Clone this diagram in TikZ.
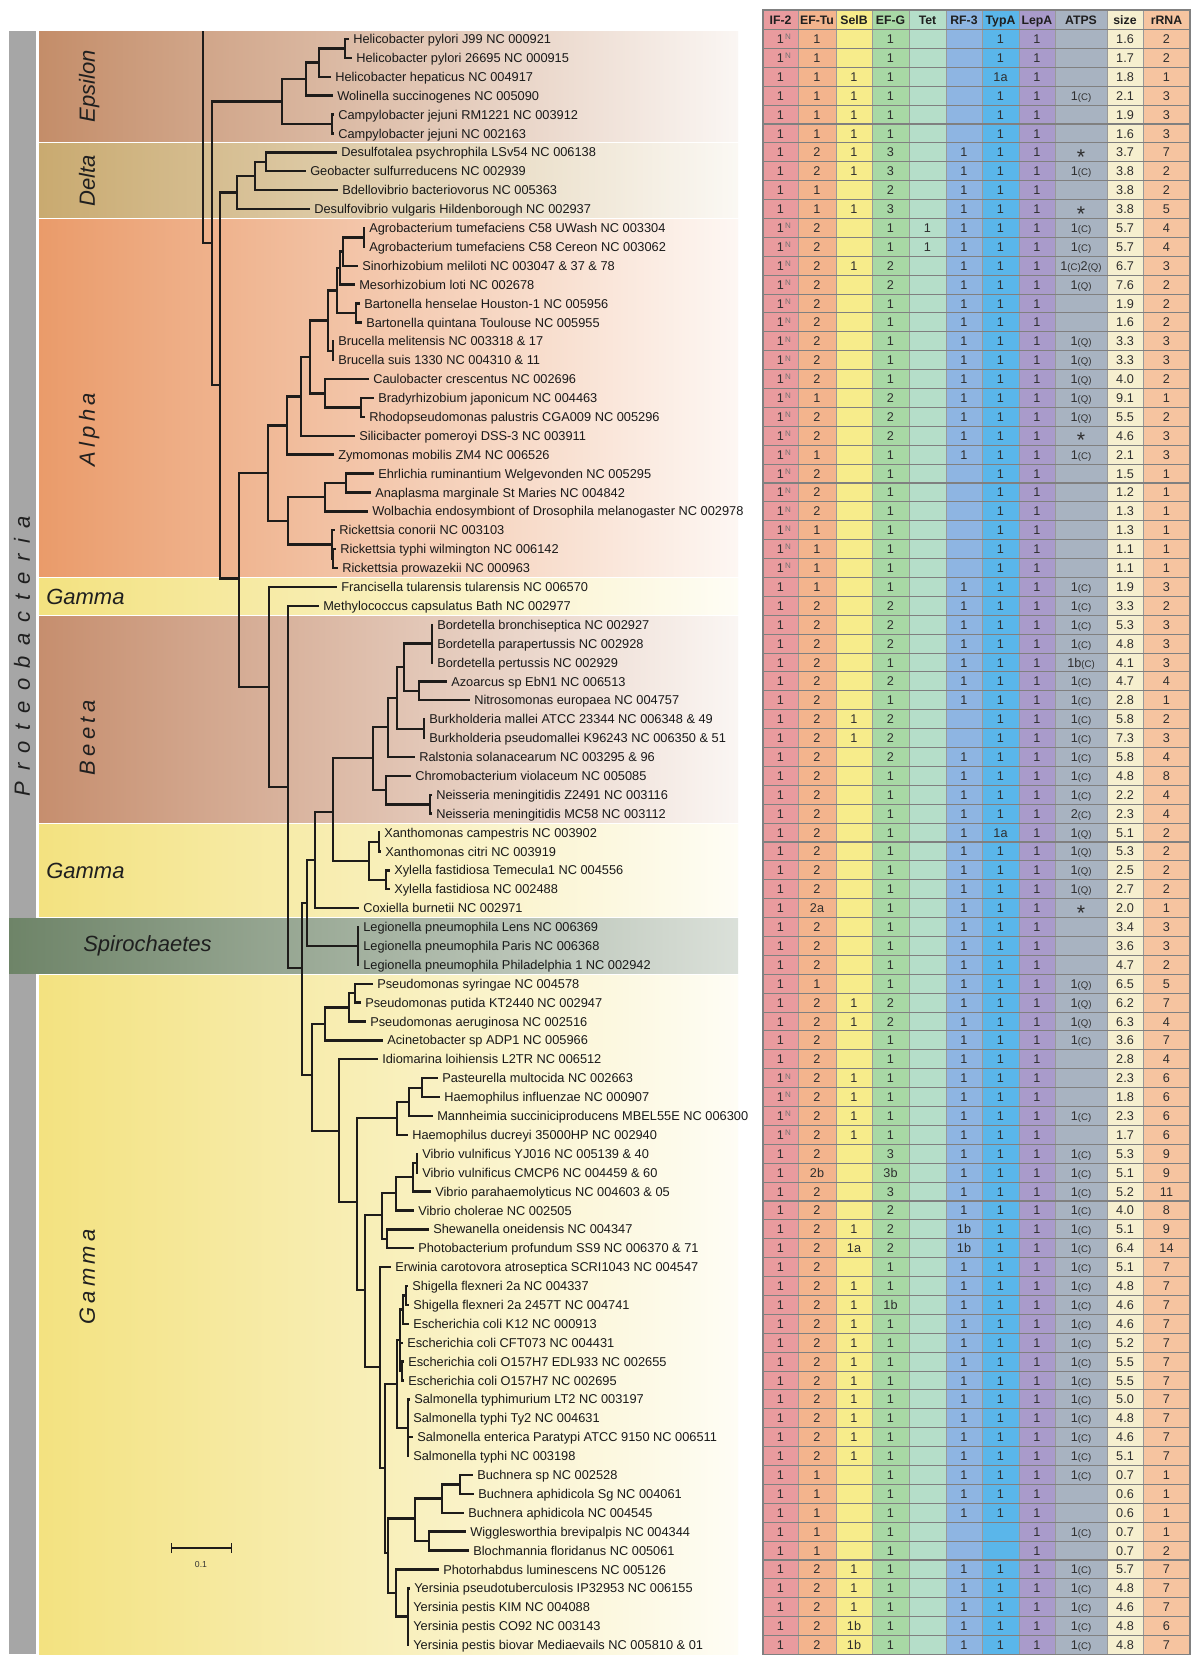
\documentclass[tikz,border=0pt]{standalone}
\usepackage{fontspec}
\setmainfont{Liberation Sans}
\newfontfamily\grpfont[LetterSpace=20]{Liberation Sans}
\newfontfamily\phylfont[LetterSpace=48]{Liberation Sans}
\usetikzlibrary{arrows.meta}

\definecolor{treecol}{RGB}{30,28,26}
\definecolor{epscol}{RGB}{196,141,105}
\definecolor{delcol}{RGB}{201,170,112}
\definecolor{alpcol}{RGB}{234,155,106}
\definecolor{gamcol}{RGB}{243,226,128}
\definecolor{betcol}{RGB}{198,142,110}
\definecolor{spicol}{RGB}{110,132,104}
\definecolor{phycol}{RGB}{166,166,166}
\definecolor{cIF}{RGB}{233,155,158}
\definecolor{cTu}{RGB}{243,180,141}
\definecolor{cSel}{RGB}{247,236,139}
\definecolor{cG}{RGB}{168,216,165}
\definecolor{cTet}{RGB}{181,222,201}
\definecolor{cRF}{RGB}{142,181,226}
\definecolor{cTyp}{RGB}{90,182,234}
\definecolor{cLep}{RGB}{169,155,203}
\definecolor{cATP}{RGB}{168,179,193}
\definecolor{cSize}{RGB}{246,239,207}
\definecolor{cRNA}{RGB}{246,196,160}
\definecolor{gridcol}{RGB}{128,128,128}

\newcommand{\supN}{\rlap{\kern0.8pt\raisebox{0.55ex}{\fontsize{6pt}{6pt}\selectfont\color{black!55}N}}}
\newcommand{\smC}{{\fontsize{7.2pt}{8pt}\selectfont(C)}}
\newcommand{\smQ}{{\fontsize{7.2pt}{8pt}\selectfont(Q)}}
\newcommand{\astk}{\raisebox{-5.6pt}{\fontsize{16pt}{16pt}\selectfont *}}

\begin{document}
\begin{tikzpicture}[x=0.75pt,y=-0.75pt,
  branch/.style={line width=1.8pt,draw=treecol},
  leaf/.style={anchor=west,inner xsep=3pt,inner ysep=0pt,text=black!90,font=\fontsize{9.6pt}{10pt}\selectfont,text height=6.9pt,text depth=0pt},
  cell/.style={inner sep=0pt,text=black!82,font=\fontsize{9.5pt}{10pt}\selectfont,text height=6.8pt,text depth=0pt},
  head/.style={cell,text=black!88,font=\bfseries\fontsize{9.2pt}{10pt}\selectfont},
  grp/.style={inner sep=0pt,text=black!88,font=\itshape\fontsize{16.5pt}{18pt}\selectfont,text height=11.8pt,text depth=0pt},
  grpsp/.style={grp,font=\grpfont\itshape\fontsize{16.5pt}{18pt}\selectfont},
  rowline/.style={draw=gridcol,line width=0.8pt},
  colline/.style={draw=gridcol!80,line width=0.6pt}]
\fill[white] (0,0) rectangle (1200,1663);
\useasboundingbox (0,0) rectangle (1200,1663);

% groups
\shade[left color=epscol,middle color=epscol!72,right color=epscol!8] (39,31) rectangle (738,141.9);
\shade[left color=delcol,middle color=delcol!72,right color=delcol!8] (39,143.9) rectangle (738,217.5);
\shade[left color=alpcol,middle color=alpcol!72,right color=alpcol!8] (39,219.5) rectangle (738,576.5);
\shade[left color=gamcol,middle color=gamcol!72,right color=gamcol!8] (39,578.5) rectangle (738,614.3);
\shade[left color=betcol,middle color=betcol!72,right color=betcol!8] (39,616.3) rectangle (738,822.1);
\shade[left color=gamcol,middle color=gamcol!72,right color=gamcol!8] (39,824.1) rectangle (738,916.6);
\shade[left color=gamcol,middle color=gamcol!72,right color=gamcol!8] (39,975.3) rectangle (738,1654);
\fill[phycol] (9,31) rectangle (36,1654);
\shade[left color=spicol,middle color=spicol!75,right color=spicol!25] (9,918.6) rectangle (738,973.3);

\node[grp,rotate=90] (lab-eps) at (87,86) {Epsilon};
\node[grp,rotate=90] (lab-del) at (87,181) {Delta};
\node[grpsp,rotate=90] (lab-alp) at (87,430) {Alpha};
\node[grp,anchor=west] (lab-gam1) at (46,597) {Gamma};
\node[grpsp,rotate=90] (lab-bet) at (87,738) {Beeta};
\node[grp,anchor=west] (lab-gam2) at (46,871) {Gamma};
\node[grp,anchor=west] (lab-spi) at (83,944) {Spirochaetes};
\node[grpsp,rotate=90] (lab-gam3) at (87,1277) {Gamma};
\node[grp,rotate=90,font=\phylfont\itshape\fontsize{16.5pt}{18pt}\selectfont] (lab-phy) at (22,656) {Proteobacteria};

% leaves
\foreach \r/\tx/\lab in {
0/349/Helicobacter pylori J99 NC 000921,
1/352/Helicobacter pylori 26695 NC 000915,
2/331/Helicobacter hepaticus NC 004917,
3/333/Wolinella succinogenes NC 005090,
4/334/Campylobacter jejuni RM1221 NC 003912,
5/334/Campylobacter jejuni NC 002163,
6/337/Desulfotalea psychrophila LSv54 NC 006138,
7/306/Geobacter sulfurreducens NC 002939,
8/338/Bdellovibrio bacteriovorus NC 005363,
9/310/Desulfovibrio vulgaris Hildenborough NC 002937,
10/365/Agrobacterium tumefaciens C58 UWash NC 003304,
11/365/Agrobacterium tumefaciens C58 Cereon NC 003062,
12/358/Sinorhizobium meliloti NC 003047 \& 37 \& 78,
13/355/Mesorhizobium loti NC 002678,
14/360/Bartonella henselae Houston-1 NC 005956,
15/362/Bartonella quintana Toulouse NC 005955,
16/334/Brucella melitensis NC 003318 \& 17,
17/334/Brucella suis 1330 NC 004310 \& 11,
18/369/Caulobacter crescentus NC 002696,
19/374/Bradyrhizobium japonicum NC 004463,
20/365/Rhodopseudomonas palustris CGA009 NC 005296,
21/355/Silicibacter pomeroyi DSS-3 NC 003911,
22/334/Zymomonas mobilis ZM4 NC 006526,
23/374/Ehrlichia ruminantium Welgevonden NC 005295,
24/371/Anaplasma marginale St Maries NC 004842,
25/368/Wolbachia endosymbiont of Drosophila melanogaster NC 002978,
26/335/Rickettsia conorii NC 003103,
27/336/Rickettsia typhi wilmington NC 006142,
28/338/Rickettsia prowazekii NC 000963,
29/337/Francisella tularensis tularensis NC 006570,
30/319/Methylococcus capsulatus Bath NC 002977,
31/433/Bordetella bronchiseptica NC 002927,
32/433/Bordetella parapertussis NC 002928,
33/433/Bordetella pertussis NC 002929,
34/447/Azoarcus sp EbN1 NC 006513,
35/470/Nitrosomonas europaea NC 004757,
36/425/Burkholderia mallei ATCC 23344 NC 006348 \& 49,
37/425/Burkholderia pseudomallei K96243 NC 006350 \& 51,
38/415/Ralstonia solanacearum NC 003295 \& 96,
39/411/Chromobacterium violaceum NC 005085,
40/432/Neisseria meningitidis Z2491 NC 003116,
41/432/Neisseria meningitidis MC58 NC 003112,
42/380/Xanthomonas campestris NC 003902,
43/381/Xanthomonas citri NC 003919,
44/390/Xylella fastidiosa Temecula1 NC 004556,
45/390/Xylella fastidiosa NC 002488,
46/359/Coxiella burnetii NC 002971,
47/359/Legionella pneumophila Lens NC 006369,
48/359/Legionella pneumophila Paris NC 006368,
49/359/Legionella pneumophila Philadelphia 1 NC 002942,
50/373/Pseudomonas syringae NC 004578,
51/361/Pseudomonas putida KT2440 NC 002947,
52/366/Pseudomonas aeruginosa NC 002516,
53/383/Acinetobacter sp ADP1 NC 005966,
54/378/Idiomarina loihiensis L2TR NC 006512,
55/438/Pasteurella multocida NC 002663,
56/440/Haemophilus influenzae NC 000907,
57/433/Mannheimia succiniciproducens MBEL55E NC 006300,
58/408/Haemophilus ducreyi 35000HP NC 002940,
59/418/Vibrio vulnificus YJ016 NC 005139 \& 40,
60/418/Vibrio vulnificus CMCP6 NC 004459 \& 60,
61/431/Vibrio parahaemolyticus NC 004603 \& 05,
62/414/Vibrio cholerae NC 002505,
63/429/Shewanella oneidensis NC 004347,
64/414/Photobacterium profundum SS9 NC 006370 \& 71,
65/391/Erwinia carotovora atroseptica SCRI1043 NC 004547,
66/408/Shigella flexneri 2a NC 004337,
67/409/Shigella flexneri 2a 2457T NC 004741,
68/409/Escherichia coli K12 NC 000913,
69/403/Escherichia coli CFT073 NC 004431,
70/404/Escherichia coli O157H7 EDL933 NC 002655,
71/404/Escherichia coli O157H7 NC 002695,
72/410/Salmonella typhimurium LT2 NC 003197,
73/409/Salmonella typhi Ty2 NC 004631,
74/413/Salmonella enterica Paratypi ATCC 9150 NC 006511,
75/409/Salmonella typhi NC 003198,
76/473/Buchnera sp NC 002528,
77/474/Buchnera aphidicola Sg NC 004061,
78/464/Buchnera aphidicola NC 004545,
79/466/Wigglesworthia brevipalpis NC 004344,
80/469/Blochmannia floridanus NC 005061,
81/439/Photorhabdus luminescens NC 005126,
82/410/Yersinia pseudotuberculosis IP32953 NC 006155,
83/409/Yersinia pestis KIM NC 004088,
84/409/Yersinia pestis CO92 NC 003143,
85/409/Yersinia pestis biovar Mediaevails NC 005810 \& 01}
  \node[leaf] (t\r) at (\tx,{39+18.894*\r}) {\lab};

% inner nodes
\coordinate (rt) at (203,31);
\coordinate (n1) at (212,243);
\coordinate (E0) at (282,101.5);
\coordinate (E1) at (306,79);
\coordinate (E2) at (319,62.6);
\coordinate (Hp) at (345,48.4);
\coordinate (Cj) at (332,124);
\coordinate (n2) at (220,385);
\coordinate (D0) at (237,192.5);
\coordinate (D1) at (255,176);
\coordinate (D2) at (266,161.8);
\coordinate (n3) at (239,578.5);
\coordinate (A0) at (268,473);
\coordinate (A1) at (287,425.5);
\coordinate (A2) at (301,396.4);
\coordinate (A3) at (310,357);
\coordinate (A4) at (328,320.6);
\coordinate (A5) at (337,290.5);
\coordinate (A6) at (340,268);
\coordinate (A7) at (343,251.5);
\coordinate (Ag) at (364,237.4);
\coordinate (Bt) at (356,313);
\coordinate (Br) at (333,350.7);
\coordinate (Cb) at (325,393.3);
\coordinate (Bp) at (361,407.5);
\coordinate (Rk) at (288,520.8);
\coordinate (An) at (325,497.2);
\coordinate (Ea) at (346,483);
\coordinate (Ri) at (332,544.4);
\coordinate (Tp) at (333,558.6);
\coordinate (n4) at (269,687);
\coordinate (n5) at (288,787);
\coordinate (n6) at (302,968);
\coordinate (n7) at (307,903);
\coordinate (n8) at (315,860);
\coordinate (n9) at (333,812);
\coordinate (B0) at (373,758);
\coordinate (B1) at (388,727);
\coordinate (B2) at (397,698);
\coordinate (B3) at (404,667);
\coordinate (B4) at (419,690.9);
\coordinate (Bo) at (432,643.6);
\coordinate (Bu) at (424,728.7);
\coordinate (B5) at (386,790);
\coordinate (Ne) at (430,804.3);
\coordinate (X0) at (369,861);
\coordinate (Xa) at (379,842);
\coordinate (Xy) at (386,879.8);
\coordinate (Lg) at (358,945.9);
\coordinate (G1) at (312,1075);
\coordinate (Pa) at (325,1024);
\coordinate (Ps) at (349,1007.6);
\coordinate (Pp) at (355,993.2);
\coordinate (G2) at (339,1131);
\coordinate (G3) at (357,1202);
\coordinate (Pt) at (397,1118);
\coordinate (Pm) at (409,1102);
\coordinate (Ph) at (422,1087.7);
\coordinate (G4) at (365,1290);
\coordinate (Vs) at (382,1215);
\coordinate (Vb) at (396,1193);
\coordinate (Vp) at (413,1177);
\coordinate (Vv) at (417,1163.2);
\coordinate (Sp) at (387,1238.8);
\coordinate (G5) at (380,1367);
\coordinate (G6) at (385,1468);
\coordinate (Es) at (397,1384);
\coordinate (Ec) at (400,1340);
\coordinate (Sk) at (403,1309.6);
\coordinate (Sh) at (406,1295.5);
\coordinate (Eo) at (402,1371);
\coordinate (Sa) at (408,1427.7);
\coordinate (G7) at (388,1553);
\coordinate (Bw) at (415,1518.5);
\coordinate (Bc) at (442,1498.5);
\coordinate (Bs) at (460,1484.4);
\coordinate (Wb) at (429,1541);
\coordinate (Yp) at (396,1593);
\coordinate (Ye) at (408,1616.6);

\foreach \p/\q in {rt/n1,n1/E0,n1/n2,E0/E1,E0/Cj,E1/E2,E1/t3,E2/Hp,E2/t2,Hp/t0,Hp/t1,Cj/t4,Cj/t5,
  n2/D0,n2/n3,D0/D1,D0/t9,D1/D2,D1/t8,D2/t6,D2/t7,
  n3/A0,n3/n4,A0/A1,A0/Rk,A1/A2,A1/t22,A2/A3,A2/t21,A3/A4,A3/Cb,A4/A5,A4/Br,A5/A6,A5/Bt,
  A6/A7,A6/t13,A7/Ag,A7/t12,Ag/t10,Ag/t11,Bt/t14,Bt/t15,Br/t16,Br/t17,Cb/t18,Cb/Bp,Bp/t19,Bp/t20,
  Rk/An,Rk/Ri,An/Ea,An/t25,Ea/t23,Ea/t24,Ri/t26,Ri/Tp,Tp/t27,Tp/t28,
  n4/t29,n4/n5,n5/t30,n5/n6,n6/n7,n6/G1,n7/n8,n7/Lg,Lg/t47,Lg/t48,Lg/t49,n8/n9,n8/t46,
  n9/B0,n9/X0,B0/B1,B0/B5,B1/B2,B1/t38,B2/B3,B2/Bu,B3/Bo,B3/B4,Bo/t31,Bo/t32,Bo/t33,
  B4/t34,B4/t35,Bu/t36,Bu/t37,B5/t39,B5/Ne,Ne/t40,Ne/t41,X0/Xa,X0/Xy,Xa/t42,Xa/t43,Xy/t44,Xy/t45,
  G1/Pa,G1/G2,Pa/Ps,Pa/t53,Ps/Pp,Ps/t52,Pp/t50,Pp/t51,G2/t54,G2/G3,G3/Pt,G3/G4,
  Pt/Pm,Pt/t58,Pm/Ph,Pm/t57,Ph/t55,Ph/t56,G4/Vs,G4/G5,Vs/Vb,Vs/Sp,Vb/Vp,Vb/t62,Vp/Vv,Vp/t61,
  Vv/t59,Vv/t60,Sp/t63,Sp/t64,G5/t65,G5/G6,G6/Es,G6/G7,Es/Ec,Es/Sa,Ec/Sk,Ec/t69,Ec/Eo,
  Sk/Sh,Sk/t68,Sh/t66,Sh/t67,Eo/t70,Eo/t71,Sa/t72,Sa/t73,Sa/t74,Sa/t75,
  G7/Bw,G7/Yp,Bw/Bc,Bw/Wb,Bc/Bs,Bc/t78,Bs/t76,Bs/t77,Wb/t79,Wb/t80,Yp/t81,Yp/Ye,
  Ye/t82,Ye/t83,Ye/t84,Ye/t85}
  \draw[branch] (\p) |- (\q);

% scale
\coordinate (sb1) at (171,1548);
\coordinate (sb2) at (232,1548);
\draw[line width=0.9pt,draw=treecol,{Bar[width=7.5pt]}-{Bar[width=7.5pt]}] (sb1) -- (sb2);
\node[inner sep=0pt,font=\fontsize{6.5pt}{7pt}\selectfont,text=black!80] (sbl) at (201,1564) {0.1};

% table
\foreach \xa/\xb/\col in {763/798/cIF,798/836/cTu,836/872/cSel,872/909/cG,909/946/cTet,946/982/cRF,
  982/1019/cTyp,1019/1055/cLep,1055/1107/cATP,1107/1143/cSize,1143/1190/cRNA}
  \fill[\col] (\xa,10) rectangle (\xb,1654.4);
\foreach \xa in {798,836,872,909,946,982,1019,1055,1107,1143}
  \draw[colline] (\xa,10) -- (\xa,1654.4);
\foreach \k in {0,...,86}
  \draw[rowline] (763,{29.55+18.894*\k}) -- (1190,{29.55+18.894*\k});
\draw[rowline] (763,10) rectangle (1190,1654.4);

\def\colx{{780.5,817,854,890.5,927.5,964,1000.5,1037,1081,1125,1166.5}}
\foreach \h [count=\c] in {IF-2,EF-Tu,SelB,EF-G,Tet,RF-3,TypA,LepA,ATPS,size,rRNA}
  \node[head] (h\c) at ({\colx[\c-1]},20) {\h};

\foreach \r/\vals in {
0/{1\supN,1,{},1,{},{},1,1,{},1.6,2},
1/{1\supN,1,{},1,{},{},1,1,{},1.7,2},
2/{1,1,1,1,{},{},1a,1,{},1.8,1},
3/{1,1,1,1,{},{},1,1,1\smC,2.1,3},
4/{1,1,1,1,{},{},1,1,{},1.9,3},
5/{1,1,1,1,{},{},1,1,{},1.6,3},
6/{1,2,1,3,{},1,1,1,\astk,3.7,7},
7/{1,2,1,3,{},1,1,1,1\smC,3.8,2},
8/{1,1,{},2,{},1,1,1,{},3.8,2},
9/{1,1,1,3,{},1,1,1,\astk,3.8,5},
10/{1\supN,2,{},1,1,1,1,1,1\smC,5.7,4},
11/{1\supN,2,{},1,1,1,1,1,1\smC,5.7,4},
12/{1\supN,2,1,2,{},1,1,1,1\smC2\smQ,6.7,3},
13/{1\supN,2,{},2,{},1,1,1,1\smQ,7.6,2},
14/{1\supN,2,{},1,{},1,1,1,{},1.9,2},
15/{1\supN,2,{},1,{},1,1,1,{},1.6,2},
16/{1\supN,2,{},1,{},1,1,1,1\smQ,3.3,3},
17/{1\supN,2,{},1,{},1,1,1,1\smQ,3.3,3},
18/{1\supN,2,{},1,{},1,1,1,1\smQ,4.0,2},
19/{1\supN,1,{},2,{},1,1,1,1\smQ,9.1,1},
20/{1\supN,2,{},2,{},1,1,1,1\smQ,5.5,2},
21/{1\supN,2,{},2,{},1,1,1,\astk,4.6,3},
22/{1\supN,1,{},1,{},1,1,1,1\smC,2.1,3},
23/{1\supN,2,{},1,{},{},1,1,{},1.5,1},
24/{1\supN,2,{},1,{},{},1,1,{},1.2,1},
25/{1\supN,2,{},1,{},{},1,1,{},1.3,1},
26/{1\supN,1,{},1,{},{},1,1,{},1.3,1},
27/{1\supN,1,{},1,{},{},1,1,{},1.1,1},
28/{1\supN,1,{},1,{},{},1,1,{},1.1,1},
29/{1,1,{},1,{},1,1,1,1\smC,1.9,3},
30/{1,2,{},2,{},1,1,1,1\smC,3.3,2},
31/{1,2,{},2,{},1,1,1,1\smC,5.3,3},
32/{1,2,{},2,{},1,1,1,1\smC,4.8,3},
33/{1,2,{},1,{},1,1,1,1b\smC,4.1,3},
34/{1,2,{},2,{},1,1,1,1\smC,4.7,4},
35/{1,2,{},1,{},1,1,1,1\smC,2.8,1},
36/{1,2,1,2,{},{},1,1,1\smC,5.8,2},
37/{1,2,1,2,{},{},1,1,1\smC,7.3,3},
38/{1,2,{},2,{},1,1,1,1\smC,5.8,4},
39/{1,2,{},1,{},1,1,1,1\smC,4.8,8},
40/{1,2,{},1,{},1,1,1,1\smC,2.2,4},
41/{1,2,{},1,{},1,1,1,2\smC,2.3,4},
42/{1,2,{},1,{},1,1a,1,1\smQ,5.1,2},
43/{1,2,{},1,{},1,1,1,1\smQ,5.3,2},
44/{1,2,{},1,{},1,1,1,1\smQ,2.5,2},
45/{1,2,{},1,{},1,1,1,1\smQ,2.7,2},
46/{1,2a,{},1,{},1,1,1,\astk,2.0,1},
47/{1,2,{},1,{},1,1,1,{},3.4,3},
48/{1,2,{},1,{},1,1,1,{},3.6,3},
49/{1,2,{},1,{},1,1,1,{},4.7,2},
50/{1,1,{},1,{},1,1,1,1\smQ,6.5,5},
51/{1,2,1,2,{},1,1,1,1\smQ,6.2,7},
52/{1,2,1,2,{},1,1,1,1\smQ,6.3,4},
53/{1,2,{},1,{},1,1,1,1\smC,3.6,7},
54/{1,2,{},1,{},1,1,1,{},2.8,4},
55/{1\supN,2,1,1,{},1,1,1,{},2.3,6},
56/{1\supN,2,1,1,{},1,1,1,{},1.8,6},
57/{1\supN,2,1,1,{},1,1,1,1\smC,2.3,6},
58/{1\supN,2,1,1,{},1,1,1,{},1.7,6},
59/{1,2,{},3,{},1,1,1,1\smC,5.3,9},
60/{1,2b,{},3b,{},1,1,1,1\smC,5.1,9},
61/{1,2,{},3,{},1,1,1,1\smC,5.2,11},
62/{1,2,{},2,{},1,1,1,1\smC,4.0,8},
63/{1,2,1,2,{},1b,1,1,1\smC,5.1,9},
64/{1,2,1a,2,{},1b,1,1,1\smC,6.4,14},
65/{1,2,{},1,{},1,1,1,1\smC,5.1,7},
66/{1,2,1,1,{},1,1,1,1\smC,4.8,7},
67/{1,2,1,1b,{},1,1,1,1\smC,4.6,7},
68/{1,2,1,1,{},1,1,1,1\smC,4.6,7},
69/{1,2,1,1,{},1,1,1,1\smC,5.2,7},
70/{1,2,1,1,{},1,1,1,1\smC,5.5,7},
71/{1,2,1,1,{},1,1,1,1\smC,5.5,7},
72/{1,2,1,1,{},1,1,1,1\smC,5.0,7},
73/{1,2,1,1,{},1,1,1,1\smC,4.8,7},
74/{1,2,1,1,{},1,1,1,1\smC,4.6,7},
75/{1,2,1,1,{},1,1,1,1\smC,5.1,7},
76/{1,1,{},1,{},1,1,1,1\smC,0.7,1},
77/{1,1,{},1,{},1,1,1,{},0.6,1},
78/{1,1,{},1,{},1,1,1,{},0.6,1},
79/{1,1,{},1,{},{},{},1,1\smC,0.7,1},
80/{1,1,{},1,{},{},{},1,{},0.7,2},
81/{1,2,1,1,{},1,1,1,1\smC,5.7,7},
82/{1,2,1,1,{},1,1,1,1\smC,4.8,7},
83/{1,2,1,1,{},1,1,1,1\smC,4.6,7},
84/{1,2,1b,1,{},1,1,1,1\smC,4.8,6},
85/{1,2,1b,1,{},1,1,1,1\smC,4.8,7}}
  \foreach \v [count=\c] in \vals
    \node[cell] (c\r-\c) at ({\colx[\c-1]},{39+18.894*\r}) {\v};
\end{tikzpicture}
\end{document}
